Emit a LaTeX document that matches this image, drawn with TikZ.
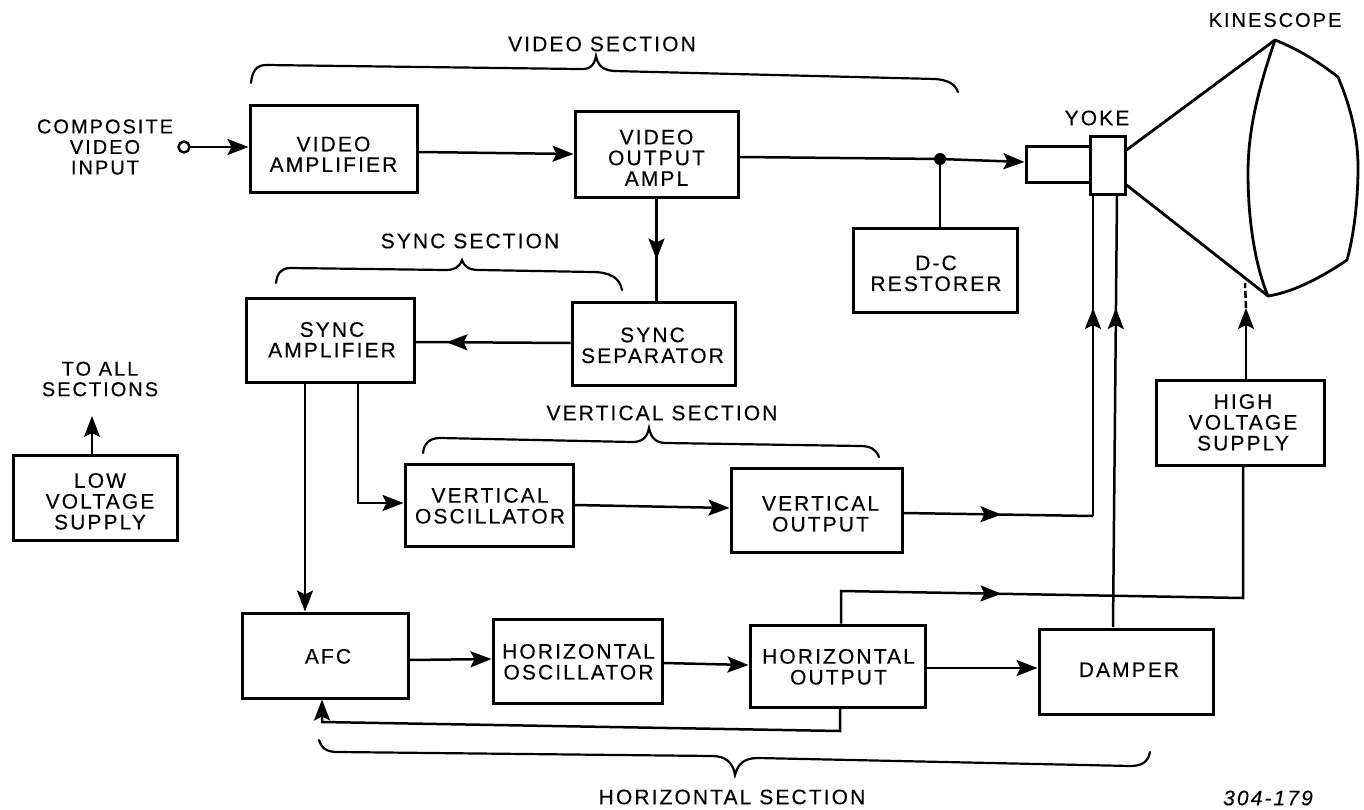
\documentclass[tikz,border=0pt]{standalone}
\usepackage{fontspec}
\setmainfont[LetterSpace=10,FakeBold=0.3]{Liberation Sans}
\usetikzlibrary{arrows.meta,decorations.markings}
\newcommand{\bt}[3]{\raisebox{\dimexpr-#2pt-9pt\relax}[0pt][0pt]{\makebox[0pt][c]{\hspace*{\dimexpr2\dimexpr#1pt\relax\relax}\begin{tabular}{@{}c@{}}#3\end{tabular}}}}
\tikzset{
  wire/.style={line width=2.5pt,black},
  shell/.style={line width=2.8pt,black,line join=round},
  boxnode/.style={draw=black,line width=3pt,inner sep=0pt,font=\fontsize{21}{20.5}\selectfont},
  lbl/.style={inner sep=0pt,align=center,font=\fontsize{21}{20.5}\selectfont},
  lblsmall/.style={lbl,font=\fontsize{20}{20.5}\selectfont},
  brace/.style={line width=2.2pt,black,line cap=round},
  tip/.style={-{Stealth[length=21pt,width=16pt,inset=4pt]}},
  tipat/.style={postaction={decorate},decoration={markings,mark=at position #1 with {\arrow{Stealth[length=21pt,width=16pt,inset=4pt]}}}}
}
\begin{document}
\begin{tikzpicture}[x=1pt,y=-1pt]
\useasboundingbox (0,0) rectangle (1364,810);
% boxes
\node[boxnode,minimum width=167pt,minimum height=87pt] (va) at (333.5,149.5) {\bt{0}{4}{VIDEO\\AMPLIFIER}};
\node[boxnode,minimum width=163pt,minimum height=86pt] (vo) at (656.5,155) {\bt{0}{2}{VIDEO\\OUTPUT\\AMPL}};
\node[boxnode,minimum width=164pt,minimum height=83pt] (dc) at (935,270.5) {\bt{1}{2}{D-C\\RESTORER}};
\node[boxnode,minimum width=163pt,minimum height=83pt] (ss) at (653.5,343.5) {\bt{-1}{1}{SYNC\\SEPARATOR}};
\node[boxnode,minimum width=168pt,minimum height=84pt] (sa) at (330,340) {\bt{2}{-1}{SYNC\\AMPLIFIER}};
\node[boxnode,minimum width=168pt,minimum height=82pt] (vosc) at (489,505) {\bt{1}{0}{VERTICAL\\OSCILLATOR}};
\node[boxnode,minimum width=171pt,minimum height=84pt] (vout) at (816.5,510) {\bt{4}{3}{VERTICAL\\OUTPUT}};
\node[boxnode,minimum width=168pt,minimum height=85pt] (hv) at (1240,422.5) {\bt{3}{-1}{HIGH\\VOLTAGE\\SUPPLY}};
\node[boxnode,minimum width=164pt,minimum height=85pt] (lv) at (95,497.5) {\bt{5}{3}{LOW\\VOLTAGE\\SUPPLY}};
\node[boxnode,minimum width=166pt,minimum height=85pt] (afc) at (325,655.5) {\bt{3}{0}{AFC}};
\node[boxnode,minimum width=169pt,minimum height=84pt] (hosc) at (577.5,661) {\bt{1}{0}{HORIZONTAL\\OSCILLATOR}};
\node[boxnode,minimum width=175pt,minimum height=82pt] (hout) at (837.5,666) {\bt{1}{0}{HORIZONTAL\\OUTPUT}};
\node[boxnode,minimum width=174pt,minimum height=85pt] (dmp) at (1126,672) {\bt{3}{-3}{DAMPER}};
% kinescope
\node[boxnode,minimum width=64pt,minimum height=36pt] (neck) at (1058,165) {};
\node[boxnode,fill=white,minimum width=35pt,minimum height=58pt] (yoke) at (1107.5,166) {};
\coordinate (kt) at (1275,40);
\coordinate (kb) at (1268,296);
\draw[shell] (yoke.east |- 0,150) -- (kt) .. controls (1300,50) and (1320,63) .. (1338,77) .. controls (1352,110) and (1358,140) .. (1358,167) .. controls (1358,200) and (1354,235) .. (1347,260) .. controls (1325,275) and (1295,292) .. (kb) -- (yoke.east |- 0,185);
\draw[shell] (kt) .. controls (1258,90) and (1248,130) .. (1248,173) .. controls (1248,220) and (1255,265) .. (kb);
% input
\coordinate (inp) at (184,147);
\draw[wire,tip] (inp) -- (va.west |- inp);
\draw[line width=2.4pt,fill=white] (inp) circle (5.5pt);
% connectors
\draw[wire,tip] (va.east |- 0,152) -- (vo.west |- 0,154);
\coordinate (vj) at (940,159);
\draw[wire,tip] (vo.east |- 0,157) -- (vj) -- (neck.west |- 0,162);
\fill (vj) circle (6pt);
\draw[wire] (vj) -- (dc.north -| vj);
\draw[wire,tipat=60pt] (vo.south) -- (ss.north -| vo.south);
\draw[wire,tipat=124pt] (ss.west |- 0,343) -- (sa.east |- 0,342);
\coordinate (s1) at (305,382);
\draw[wire,tip] (sa.south -| s1) -- (afc.north -| s1);
\coordinate (s2) at (358,503);
\draw[wire,tip] (sa.south -| s2) -- (s2) -- (vosc.west |- s2);
\draw[wire,tip] (vosc.east |- 0,505) -- (vout.west |- 0,508);
\coordinate (y1) at (1093,516);
\draw[wire,tipat=98pt] (vout.east |- 0,513) -- (y1);
\draw[wire,tipat=208pt] (y1) -- (y1 |- yoke.south);
\coordinate (d1) at (1113,627);
\draw[wire,tipat=319pt] (d1) -- (1117,195) coordinate (d2);
\coordinate (h1) at (841,591);
\coordinate (h2) at (1243,598);
\draw[wire,tipat=193pt] (h1 |- hout.north) -- (h1) -- (h2) -- (h2 |- hv.south);
\coordinate (hv1) at (1246,308);
\draw[wire,tip] (hv.north -| hv1) -- (hv1);
\draw[wire,dashed,dash pattern=on 7pt off 3pt] (hv1) -- (1245,283) coordinate (hv2);
\draw[wire,tip] (hout.east |- 0,668) -- (dmp.west |- 0,668);
\draw[wire,tip] (afc.east |- 0,660) -- (hosc.west |- 0,659);
\draw[wire,tip] (hosc.east |- 0,663) -- (hout.west |- 0,665);
\coordinate (f1) at (840,731);
\coordinate (f2) at (322,722);
\draw[wire,tip] (hout.south -| f1) -- (f1) -- (f2) -- (afc.south -| f2);
\coordinate (lvt) at (92,416);
\draw[wire,tip] (lv.north -| lvt) -- (lvt);
% braces
\draw[brace] (251,83) .. controls (252,72) and (256,65) .. (266,65) -- (578,69) .. controls (590,70) and (594,66) .. (596,56) .. controls (598,66) and (603,70) .. (614,71) -- (935,79) .. controls (948,80) and (955,84) .. (958,92);
\draw[brace] (276,283) .. controls (277,274) and (281,268) .. (290,268) -- (445,270) .. controls (454,270) and (459,268) .. (462,260) .. controls (465,268) and (470,270) .. (480,270) -- (592,272) .. controls (610,272) and (620,278) .. (622,290);
\draw[brace] (423,453) .. controls (424,444) and (429,438) .. (440,438) -- (632,442) .. controls (642,442) and (647,438) .. (649,428) .. controls (651,438) and (656,443) .. (666,443) -- (860,446) .. controls (870,446) and (876,449) .. (879,457);
\draw[brace] (319,740) .. controls (322,749) and (327,752) .. (338,752) -- (712,756) .. controls (725,756) and (733,762) .. (735,775) .. controls (738,763) and (745,758) .. (758,758) -- (1130,766) .. controls (1142,766) and (1148,762) .. (1150,752);
% labels
\node[lbl] (t1) at (602,44) {VIDEO SECTION};
\node[lbl] (t2) at (470,241) {SYNC SECTION};
\node[lbl] (t3) at (662,413) {VERTICAL SECTION};
\node[lbl] (t4) at (732,797) {HORIZONTAL SECTION};
\node[lblsmall] (t5) at (1275,20) {KINESCOPE};
\node[lbl] (t6) at (1097,118) {YOKE};
\node[lblsmall] (t7) at (105,147) {COMPOSITE\\VIDEO\\INPUT};
\node[lblsmall] (t8) at (100,379) {TO ALL\\SECTIONS};
\node[lbl] (t9) at (1268,798) {\itshape 304-179};
\end{tikzpicture}
\end{document}
